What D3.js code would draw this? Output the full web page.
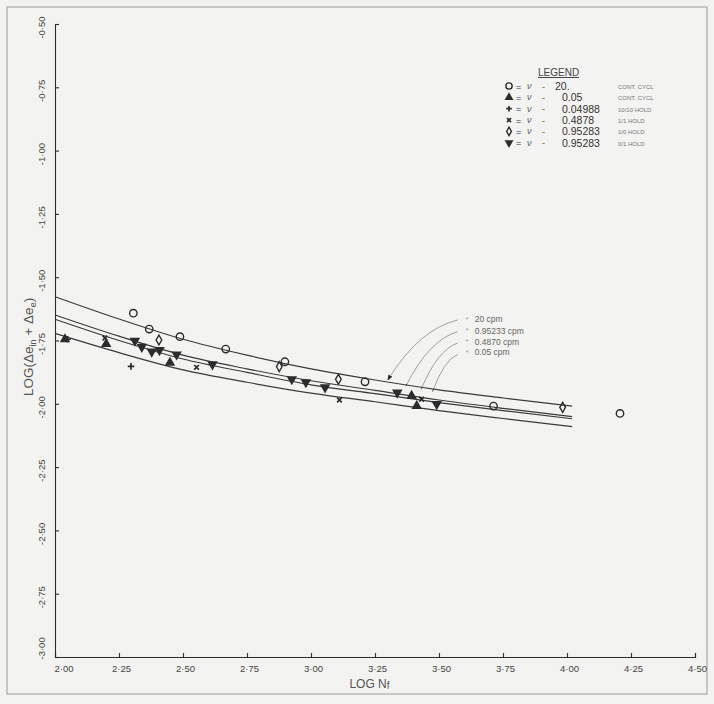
<!DOCTYPE html>
<html>
<head>
<meta charset="utf-8">
<script src="https://cdn.jsdelivr.net/npm/d3@7"></script>
<style>
  html, body { margin: 0; padding: 0; background: #f3f3f1; }
  svg { display: block; }
  text { font-family: "Liberation Sans", "DejaVu Sans", sans-serif; }
</style>
</head>
<body>
<svg id="chart" width="714" height="704"></svg>
<script>
// ---------------- DATA ----------------
const xTicks = [2.00, 2.25, 2.50, 2.75, 3.00, 3.25, 3.50, 3.75, 4.00, 4.25, 4.50];
const yTicks = [-0.50, -0.75, -1.00, -1.25, -1.50, -1.75, -2.00, -2.25, -2.50, -2.75, -3.00];
const xTickLabels = ["2·00","2·25","2·50","2·75","3·00","3·25","3·50","3·75","4·00","4·25","4·50"];
const yTickLabels = ["-0·50","-0·75","-1·00","-1·25","-1·50","-1·75","-2·00","-2·25","-2·50","-2·75","-3·00"];

// fitted curves (LOG Nf vs LOG strain range)
const curveX     = [2.00, 2.25, 2.50, 2.75, 3.00, 3.25, 3.50, 3.75, 4.02];
const curve20    = [-1.577, -1.665, -1.745, -1.808, -1.862, -1.906, -1.945, -1.977, -2.009];
const curve09523 = [-1.649, -1.733, -1.808, -1.862, -1.909, -1.947, -1.985, -2.018, -2.051];
const curve04870 = [-1.666, -1.750, -1.823, -1.876, -1.925, -1.960, -1.995, -2.027, -2.059];
const curve005   = [-1.722, -1.798, -1.866, -1.915, -1.958, -1.992, -2.027, -2.058, -2.090];
const curveNames = ["20 cpm", "0.95233 cpm", "0.4870 cpm", "0.05 cpm"];

// data points [LOG Nf, LOG strain]
const ptsCircle   = [[2.306,-1.642],[2.368,-1.705],[2.488,-1.735],[2.667,-1.784],[2.898,-1.834],[3.211,-1.913],[3.713,-2.009],[4.207,-2.038]];
const ptsTriUp    = [[2.039,-1.745],[2.200,-1.764],[2.449,-1.838],[3.393,-1.969],[3.413,-2.009]];
const ptsPlus     = [[2.297,-1.852],[2.049,-1.745]];
const ptsCross    = [[2.195,-1.740],[2.553,-1.856],[3.111,-1.985],[3.432,-1.982]];
const ptsDiamond  = [[2.406,-1.748],[2.876,-1.853],[3.107,-1.903],[3.983,-2.014]];
const ptsTriDown  = [[2.312,-1.751],[2.339,-1.775],[2.378,-1.794],[2.408,-1.788],[2.475,-1.805],[2.615,-1.844],[2.925,-1.903],[2.980,-1.915],[3.055,-1.935],[3.337,-1.956],[3.491,-2.001]];

// legend
const legendSymbols = ["circle","triUp","plus","cross","diamond","triDown"];
const legendValues  = ["20.","0.05","0.04988","0.4878","0.95283","0.95283"];
const legendNotes   = ["CONT. CYCL","CONT. CYCL","10/10 HOLD","1/1 HOLD","1/0 HOLD","0/1 HOLD"];

// curve-label leaders: label rows (y in data units) and where each leader meets the curves (x in data units)
const leaderLabelY = [-1.665, -1.709, -1.752, -1.795];
const leaderEndX   = [3.30, 3.37, 3.43, 3.475];

// ---------------- CHART ----------------
const svg = d3.select("#chart");
const x = d3.scaleLinear().domain([2.0, 4.5]).range([55, 695]);
const y = d3.scaleLinear().domain([-3.0, -0.5]).range([657, 24]);
const ink = "#2c2c2c";

// outer frame
svg.append("rect").attr("x", 7).attr("y", 7).attr("width", 700).attr("height", 687)
  .attr("fill", "none").attr("stroke", "#9a9a9a").attr("stroke-width", 1);

// axes
const xAxis = d3.axisBottom(x).tickValues(xTicks).tickSize(-4).tickPadding(0)
  .tickFormat((d, i) => xTickLabels[i]);
const gx = svg.append("g").attr("transform", `translate(0,${y(-3.0)})`).call(xAxis);
gx.select(".domain").attr("stroke", ink).attr("stroke-width", 1.1);
gx.selectAll(".tick line").attr("stroke", ink).attr("stroke-width", 1.1);
gx.selectAll(".tick text").attr("fill", "#444").attr("font-size", 9.5)
  .attr("y", 15).attr("dy", 0)
  .attr("text-anchor", (d, i) => i === 0 ? "start" : "middle")
  .attr("dx", (d, i) => i === 0 ? -1 : 2);

const yAxis = d3.axisLeft(y).tickValues(yTicks).tickSize(-4).tickPadding(0)
  .tickFormat((d, i) => yTickLabels[i]);
const gy = svg.append("g").attr("transform", `translate(${x(2.0)},0)`).call(yAxis);
gy.select(".domain").attr("stroke", ink).attr("stroke-width", 1.1);
gy.selectAll(".tick line").attr("stroke", ink).attr("stroke-width", 1.1);
gy.selectAll(".tick text").attr("fill", "#444").attr("font-size", 9.5)
  .attr("x", null).attr("dy", 0)
  .attr("text-anchor", (d, i) => i === yTicks.length - 1 ? "start" : "middle")
  .attr("transform", (d, i) => i === yTicks.length - 1 ? "translate(-10,2) rotate(-90)" : "translate(-10,3) rotate(-90)");

// axis titles
svg.append("text").attr("x", x(3.15)).attr("y", 688)
  .attr("fill", "#555").attr("font-size", 12)
  .text("LOG  N").append("tspan").attr("font-size", 10).attr("dy", 1).text("f");

const yt = svg.append("text").attr("transform", `translate(33,${y(-1.775)}) rotate(-90)`)
  .attr("text-anchor", "middle").attr("fill", "#555").attr("font-size", 13.5);
yt.append("tspan").text("LOG(Δe");
yt.append("tspan").attr("font-size", 9).attr("dy", 3).text("in");
yt.append("tspan").attr("dy", -3).text(" + Δe");
yt.append("tspan").attr("font-size", 9.5).attr("dy", 3).text("e");
yt.append("tspan").attr("dy", -3).text(")");

// curves
const line = d3.line().x(d => x(d[0])).y(d => y(d[1])).curve(d3.curveMonotoneX);
[curve20, curve09523, curve04870, curve005].forEach(c => {
  svg.append("path").datum(curveX.map((v, i) => [v, c[i]]))
    .attr("d", line).attr("fill", "none").attr("stroke", "#3a3a3a").attr("stroke-width", 1.2);
});

// symbols
function drawSymbol(g, type, cx, cy, s) {
  s = s || 1;
  if (type === "circle") {
    g.append("circle").attr("cx", cx).attr("cy", cy).attr("r", 3.7 * s)
      .attr("fill", "none").attr("stroke", ink).attr("stroke-width", 1.4);
  } else if (type === "triUp" || type === "triDown") {
    g.append("path").attr("d", d3.symbol(d3.symbolTriangle, 48 * s * s)())
      .attr("transform", `translate(${cx},${cy}) rotate(${type === "triDown" ? 180 : 0})`)
      .attr("fill", ink);
  } else if (type === "plus" || type === "cross") {
    const r = 3.3 * s;
    g.append("path").attr("d", `M${-r},0H${r}M0,${-r}V${r}`)
      .attr("transform", `translate(${cx},${cy}) rotate(${type === "cross" ? 45 : 0})`)
      .attr("stroke", ink).attr("stroke-width", 1.7).attr("fill", "none");
  } else if (type === "diamond") {
    g.append("path").attr("d", d3.symbol(d3.symbolDiamond, 28 * s * s)())
      .attr("transform", `translate(${cx},${cy})`)
      .attr("fill", "none").attr("stroke", ink).attr("stroke-width", 1.4);
  }
}
const gp = svg.append("g");
[[ptsCircle,"circle"],[ptsTriUp,"triUp"],[ptsPlus,"plus"],[ptsCross,"cross"],[ptsDiamond,"diamond"],[ptsTriDown,"triDown"]]
  .forEach(([pts, t]) => pts.forEach(p => drawSymbol(gp, t, x(p[0]), y(p[1]))));

// curve labels with leaders
function interp(xs, ys, xv) {
  for (let i = 0; i < xs.length - 1; i++) {
    if (xv >= xs[i] && xv <= xs[i + 1]) {
      const t = (xv - xs[i]) / (xs[i + 1] - xs[i]);
      return ys[i] + t * (ys[i + 1] - ys[i]);
    }
  }
  return ys[ys.length - 1];
}
const defs = svg.append("defs");
defs.append("marker").attr("id", "arr").attr("viewBox", "0 0 10 10").attr("refX", 9).attr("refY", 5)
  .attr("markerWidth", 7).attr("markerHeight", 7).attr("orient", "auto-start-reverse")
  .append("path").attr("d", "M0,1L10,5L0,9z").attr("fill", "#222");
defs.append("marker").attr("id", "tk").attr("viewBox", "0 0 10 10").attr("refX", 9).attr("refY", 5)
  .attr("markerWidth", 4).attr("markerHeight", 4).attr("orient", "auto")
  .append("path").attr("d", "M0,3L10,5L0,7z").attr("fill", "#333");

const labelX = x(3.62);
curveNames.forEach((name, i) => {
  const ly = y(leaderLabelY[i]);
  const sx = labelX - 12, sy = ly + 1 + i * 0.5;
  const ex = x(leaderEndX[i]);
  const ey = y(interp(curveX, curve20, leaderEndX[i])) + (i === 0 ? -2 : 1 + i * 0.6);
  const dx = sx - ex, dy = ey - sy;
  const cx = sx - 0.55 * dx, cy = sy + 0.15 * dy;
  svg.append("path").attr("d", `M${sx},${sy}Q${cx},${cy} ${ex},${ey}`)
    .attr("fill", "none").attr("stroke", "#8a8a8a").attr("stroke-width", 0.8)
    .attr("marker-end", i === 0 ? "url(#arr)" : "url(#tk)");
  svg.append("text").attr("x", labelX - 4).attr("y", ly + 3).attr("fill", "#999").attr("font-size", 7).text("*");
  svg.append("text").attr("x", labelX + 5).attr("y", ly + 3.5).attr("fill", "#666").attr("font-size", 8.5).text(name);
});

// legend
const lg = svg.append("g");
const legTop = 86, legStep = 11.35;
lg.append("text").attr("x", 538).attr("y", legTop - 10).attr("fill", "#444").attr("font-size", 10)
  .attr("text-decoration", "underline").text("LEGEND");
legendSymbols.forEach((s, i) => {
  const cy = legTop + i * legStep;
  drawSymbol(lg, s, 509, cy, 0.85);
  lg.append("text").attr("x", 516).attr("y", cy + 3.5).attr("fill", "#333").attr("font-size", 9).text("=");
  lg.append("text").attr("x", 527).attr("y", cy + 3).attr("fill", "#555").attr("font-size", 9).attr("font-style", "italic").text("ν");
  lg.append("text").attr("x", 542).attr("y", cy + 3.5).attr("fill", "#555").attr("font-size", 9).text("-");
  lg.append("text").attr("x", i === 0 ? 555 : 562).attr("y", cy + 4).attr("fill", "#333").attr("font-size", 10.5).text(legendValues[i]);
  lg.append("text").attr("x", 618).attr("y", cy + 3).attr("fill", "#777").attr("font-size", 6).text(legendNotes[i]);
});
</script>
</body>
</html>
